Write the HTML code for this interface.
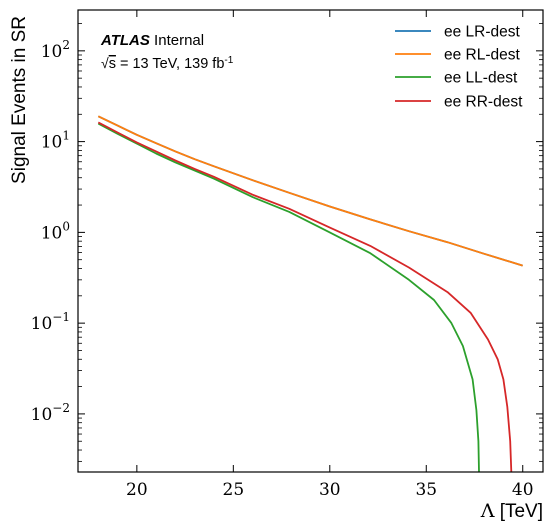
<!DOCTYPE html>
<html><head><meta charset="utf-8">
<style>
html,body{margin:0;padding:0;background:#fff;}
svg{display:block;}
.serif{font-family:"DejaVu Serif","Liberation Serif",serif;}
.sans{font-family:"Liberation Sans",Arial,sans-serif;}
</style></head>
<body>
<svg id="chart" width="552" height="532" xmlns="http://www.w3.org/2000/svg">
<rect x="0" y="0" width="552" height="532" fill="#fff"/>
<g id="ticks"></g>
<g id="series"></g>
<rect x="78" y="10" width="465" height="462" fill="none" stroke="#000" stroke-width="1.2"/>
<g class="sans">
<text x="101" y="45" font-size="15"><tspan font-weight="bold" font-style="italic">ATLAS</tspan> Internal</text>
<text x="101" y="68" font-size="14.5"><tspan font-size="14">√</tspan><tspan text-decoration="overline">s</tspan> = 13 TeV, 139 fb<tspan dy="-5" font-size="10">-1</tspan></text>
</g>
<text class="sans" transform="translate(25,100) rotate(-90)" text-anchor="middle" font-size="19">Signal Events in SR</text>
<text x="543" y="517" text-anchor="end" font-size="19"><tspan class="serif">Λ</tspan><tspan class="sans"> [TeV]</tspan></text>
<g id="legend" class="sans"></g>
</svg>
<script>
const xTicks=[20,25,30,35,40];
const yDecades=[-2,-1,0,1,2];
const seriesNames=["ee LR-dest","ee RL-dest","ee LL-dest","ee RR-dest"];
const seriesColors=["#1f77b4","#ff7f0e","#2ca02c","#d62728"];
const lrX=[18,19,20,21,22,23,24,26,27.9,30,32.1,34.1,36.1,38,40];
const lrY=[19.0,15.0,11.9,9.6,7.8,6.4,5.35,3.76,2.73,1.93,1.39,1.03,0.78,0.58,0.43];
const rlX=lrX;
const rlY=lrY;
const llX=[18,19,20,21,22,23,24,26,27.9,30,32.1,34.1,35.4,36.3,36.9,37.4,37.6,37.7,37.74,37.76];
const llY=[15.8,12.2,9.5,7.4,5.9,4.8,3.9,2.45,1.68,1.0,0.59,0.30,0.18,0.10,0.056,0.024,0.011,0.005,0.0015,0.0005];
const rrX=[18,19,20,21,22,23,24,26,27.9,30,32.1,34.1,36.1,37.3,38.2,38.7,39.0,39.2,39.35,39.42,39.46];
const rrY=[16.3,12.6,9.8,7.8,6.2,5.0,4.1,2.6,1.82,1.13,0.71,0.41,0.22,0.13,0.066,0.040,0.024,0.012,0.005,0.0015,0.0005];

const NS="http://www.w3.org/2000/svg";
const L=78,R=543,T=10,B=472;
const xMin=16.95,xMax=41.05,yMin=-2.64,yMax=2.45;
function xs(v){return L+(v-xMin)/(xMax-xMin)*(R-L);}
function ys(v){const lv=Math.log10(Math.max(v,1e-6));return B-(lv-yMin)/(yMax-yMin)*(B-T);}
function mk(tag,attrs,parent){const e=document.createElementNS(NS,tag);for(const k in attrs)e.setAttribute(k,attrs[k]);parent.appendChild(e);return e;}

const tg=document.getElementById('ticks');
xTicks.forEach(v=>{
  const x=xs(v);
  const t=mk('line',{x1:x,x2:x,y1:B,y2:B-7,stroke:'#000','stroke-width':1},tg);
  
  
  mk('line',{x1:x,x2:x,y1:T,y2:T+7,stroke:'#000','stroke-width':1},tg);
  const lb=mk('text',{x:x,y:B+23,'text-anchor':'middle','font-size':17,class:'serif'},tg);
  lb.textContent=v;
  
  
});
yDecades.forEach(d=>{
  const y=ys(Math.pow(10,d));
  mk('line',{x1:L,x2:L+7,y1:y,y2:y,stroke:'#000','stroke-width':1},tg);
  mk('line',{x1:R,x2:R-7,y1:y,y2:y,stroke:'#000','stroke-width':1},tg);
  const lb=mk('text',{x:L-8,y:y+6,'text-anchor':'end','font-size':17,class:'serif'},tg);
  lb.innerHTML='10<tspan dy="-8" font-size="12">'+(d<0?'−'+(-d):d)+'</tspan>';
  
  
});
for(let d=-3;d<=2;d++){for(let m=2;m<=9;m++){const v=m*Math.pow(10,d);const y=ys(v);if(y<T||y>B)continue;
  mk('line',{x1:L,x2:L+4,y1:y,y2:y,stroke:'#000','stroke-width':0.8},tg);
  mk('line',{x1:R,x2:R-4,y1:y,y2:y,stroke:'#000','stroke-width':0.8},tg);}}

const sg=document.getElementById('series');
const allX=[lrX,rlX,llX,rrX],allY=[lrY,rlY,llY,rrY];
const seriesKeys=['lr','rl','ll','rr'];
[0,1,2,3].forEach(i=>{
  const pts=allX[i].map((x,j)=>xs(x).toFixed(1)+','+Math.min(ys(allY[i][j]),B+5).toFixed(1)).join(' ');
  const p=mk('polyline',{points:pts,fill:'none',stroke:seriesColors[i],'stroke-width':1.8,'stroke-linejoin':'round'},sg);
  
  
});
const clip=mk('clipPath',{id:'c'},document.getElementById('chart'));
mk('rect',{x:L,y:T,width:R-L,height:B-T},clip);
sg.setAttribute('clip-path','url(#c)');

const lg=document.getElementById('legend');
const legY=[31,54,77,101];
seriesNames.forEach((n,i)=>{
  const g=mk('g',{},lg);
  
  
  mk('line',{x1:395,x2:431,y1:legY[i],y2:legY[i],stroke:seriesColors[i],'stroke-width':1.8},g);
  const t=mk('text',{x:444,y:legY[i]+5.5,'font-size':15.5},g);
  t.textContent=n;
});
</script>
</body></html>
